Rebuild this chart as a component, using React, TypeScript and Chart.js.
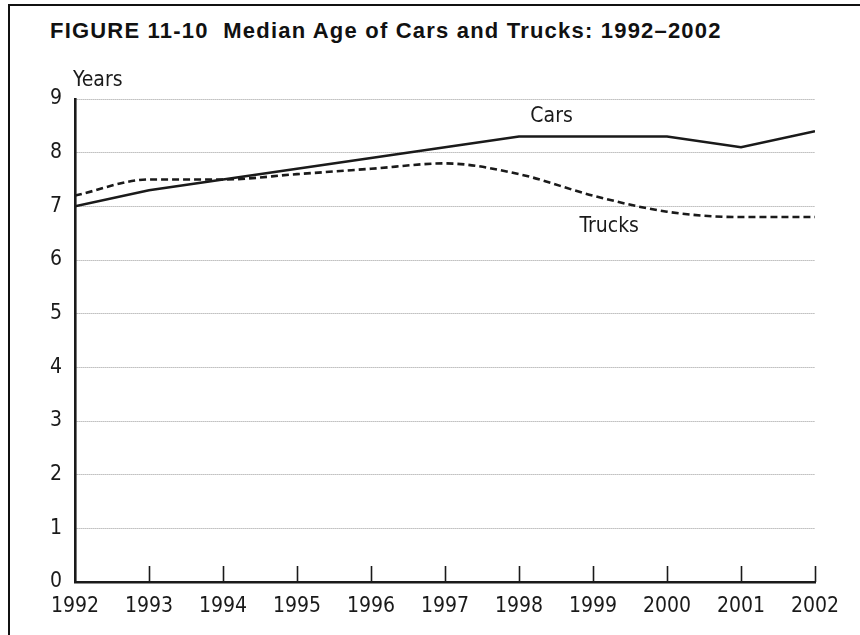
import React, { useEffect, useRef } from 'react';
import { Chart, registerables } from 'chart.js';

Chart.register(...registerables);

const years = [1992, 1993, 1994, 1995, 1996, 1997, 1998, 1999, 2000, 2001, 2002];
const cars = [7.0, 7.3, 7.5, 7.7, 7.9, 8.1, 8.3, 8.3, 8.3, 8.1, 8.4];
const trucks = [7.2, 7.5, 7.5, 7.6, 7.7, 7.8, 7.6, 7.2, 6.9, 6.8, 6.8];
const yTicks = [0, 1, 2, 3, 4, 5, 6, 7, 8, 9];
const seriesLabels = [
  { text: 'Cars', x: 1998.44, y: 8.68 },
  { text: 'Trucks', x: 1999.22, y: 6.63 },
];

const NARROW = '"Liberation Sans Narrow", "DejaVu Sans Condensed", "Arial Narrow", sans-serif';
const INK = '#1a1a1a';

const overlayPlugin = {
  id: 'overlay',
  afterDraw(chart: any) {
    const { ctx, scales } = chart;
    const xs = scales.x;
    const ys = scales.y;
    ctx.save();
    // inward tick marks on x axis
    ctx.strokeStyle = INK;
    ctx.lineWidth = 1.6;
    const y0 = ys.getPixelForValue(0);
    years.forEach((yr, i) => {
      if (i === 0) return;
      const px = Math.round(xs.getPixelForValue(yr)) + 0.5;
      ctx.beginPath();
      ctx.moveTo(px, y0);
      ctx.lineTo(px, y0 - 16);
      ctx.stroke();
    });
    // series labels
    ctx.fillStyle = INK;
    ctx.font = '21px ' + NARROW;
    ctx.textAlign = 'center';
    ctx.textBaseline = 'middle';
    seriesLabels.forEach((l) => {
      ctx.fillText(l.text, xs.getPixelForValue(l.x), ys.getPixelForValue(l.y));
    });
    // axis unit label
    ctx.textAlign = 'left';
    ctx.fillText('Years', 73, 81);
    ctx.restore();
  },
};

export default function App() {
  const ref = useRef<HTMLCanvasElement>(null);
  useEffect(() => {
    if (!ref.current) return;
    const chart = new Chart(ref.current, {
      type: 'line',
      data: {
        datasets: [
          {
            label: 'Cars',
            data: years.map((x, i) => ({ x, y: cars[i] })),
            borderColor: INK,
            borderWidth: 2.6,
            pointRadius: 0,
            tension: 0,
          },
          {
            label: 'Trucks',
            data: years.map((x, i) => ({ x, y: trucks[i] })),
            borderColor: INK,
            borderWidth: 2.6,
            borderDash: [7, 4],
            pointRadius: 0,
            cubicInterpolationMode: 'monotone',
          },
        ],
      },
      plugins: [overlayPlugin],
      options: {
        responsive: false,
        animation: false,
        events: [],
        layout: { padding: { left: 0, top: 99, right: 45, bottom: 0 } },
        plugins: { legend: { display: false }, title: { display: false }, tooltip: { enabled: false } },
        scales: {
          x: {
            type: 'linear',
            min: years[0],
            max: years[years.length - 1],
            afterBuildTicks: (s: any) => {
              s.ticks = years.map((v) => ({ value: v }));
            },
            afterFit: (s: any) => {
              s.height = 53;
            },
            grid: { display: false, drawTicks: false },
            border: { display: true, color: INK, width: 2.6 },
            ticks: {
              padding: 12,
              color: INK,
              font: { family: NARROW, size: 21 },
              callback: (v: any) => String(v),
              maxRotation: 0,
              autoSkip: false,
            },
          },
          y: {
            type: 'linear',
            min: yTicks[0],
            max: yTicks[yTicks.length - 1],
            afterBuildTicks: (s: any) => {
              s.ticks = yTicks.map((v) => ({ value: v }));
            },
            afterFit: (s: any) => {
              s.width = 75;
            },
            grid: {
              drawTicks: false,
              color: (c: any) => (c.tick && c.tick.value === 0 ? 'rgba(0,0,0,0)' : '#9a9a9a'),
              lineWidth: 1,
            },
            border: { display: true, color: INK, width: 2.6, dash: [1, 1] as any },
            ticks: {
              padding: 13,
              color: INK,
              font: { family: NARROW, size: 21 },
              callback: (v: any) => String(v),
            },
          },
        },
      },
    } as any);
    return () => chart.destroy();
  }, []);

  return (
    <div style={{ position: 'absolute', left: 0, top: 0, width: 860, height: 635, background: '#fff', overflow: 'hidden' }}>
      <div
        style={{
          position: 'absolute',
          left: 8,
          top: 4,
          width: 860,
          height: 640,
          borderTop: '2px solid #111',
          borderLeft: '2px solid #111',
        }}
      />
      <div
        style={{
          position: 'absolute',
          left: 50,
          top: 18,
          font: 'bold 22px "Liberation Sans", Arial, sans-serif',
          letterSpacing: '1.2px',
          whiteSpace: 'pre',
          color: '#111',
        }}
      >
        {'FIGURE 11-10  Median Age of Cars and Trucks: 1992\u20132002'}
      </div>
      <canvas ref={ref} width={860} height={635} style={{ position: 'absolute', left: 0, top: 0 }} />
    </div>
  );
}
